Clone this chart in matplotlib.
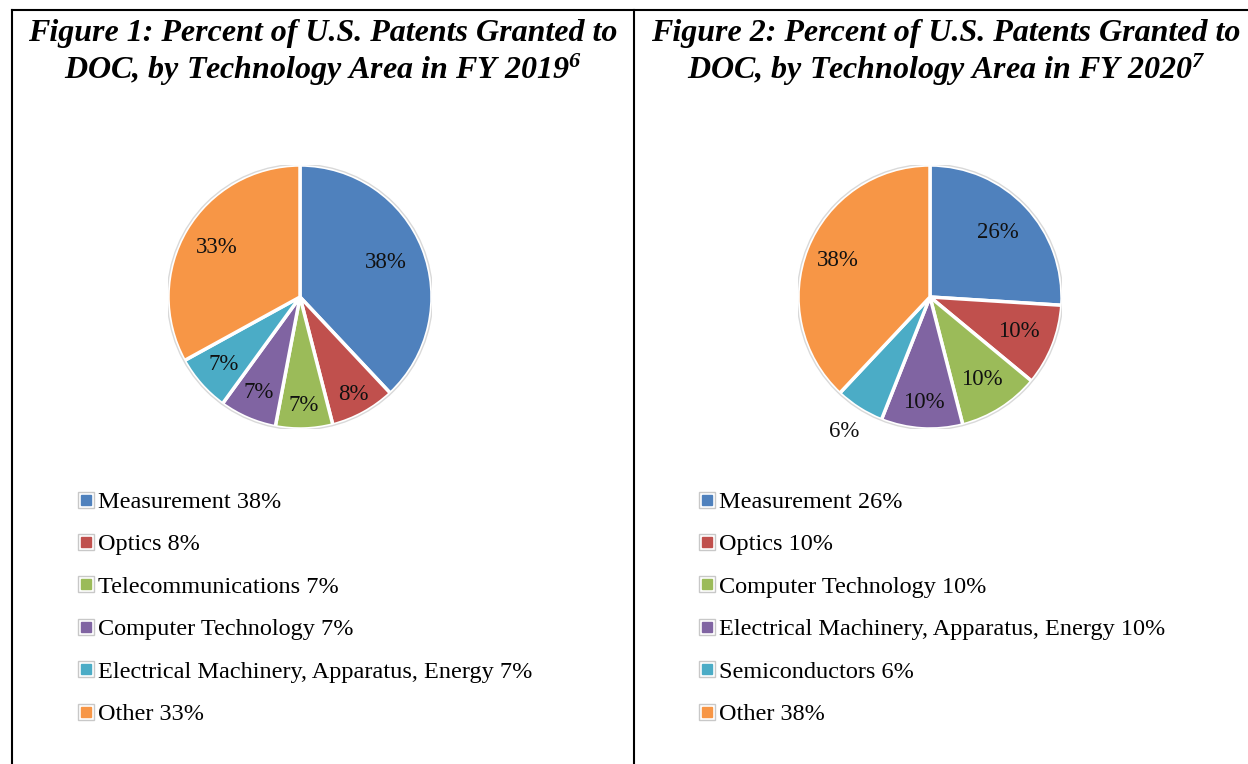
import numpy as np
import matplotlib
matplotlib.use("Agg")
import matplotlib.pyplot as plt
from matplotlib.lines import Line2D
from matplotlib.legend_handler import HandlerTuple

plt.rcParams['font.family'] = ['Liberation Serif', 'DejaVu Serif']
plt.rcParams['mathtext.fontset'] = 'custom'
plt.rcParams['mathtext.rm'] = 'Liberation Serif:bold:italic'
plt.rcParams['mathtext.it'] = 'Liberation Serif:bold:italic'
plt.rcParams['mathtext.bf'] = 'Liberation Serif:bold:italic'

# data
cats_2019 = ["Measurement", "Optics", "Telecommunications", "Computer Technology",
             "Electrical Machinery, Apparatus, Energy", "Other"]
vals_2019 = [38, 8, 7, 7, 7, 33]
cats_2020 = ["Measurement", "Optics", "Computer Technology",
             "Electrical Machinery, Apparatus, Energy", "Semiconductors", "Other"]
vals_2020 = [26, 10, 10, 10, 6, 38]
colors = ["#4F81BD", "#C0504D", "#9BBB59", "#8064A2", "#4BACC6", "#F79646"]

# label distance from centre for each slice (fraction of radius)
lab_r_2019 = [0.70, 0.84, 0.82, 0.79, 0.77, 0.73]
lab_r_2020 = [0.71, 0.72, 0.74, 0.80, 1.21, 0.75]

W, H = 1248, 764
fig = plt.figure(figsize=(W / 100, H / 100), dpi=100)
fig.patch.set_facecolor("white")

# table-like border lines
fig.add_artist(Line2D([12 / W, 1], [1 - 10 / H, 1 - 10 / H], color="black", lw=1.5))
fig.add_artist(Line2D([12 / W, 12 / W], [0, 1 - 10 / H], color="black", lw=1.5))
fig.add_artist(Line2D([634 / W, 634 / W], [0, 1 - 10 / H], color="black", lw=1.5))


def draw_panel(cx, tcx, title1, title2, cats, vals, lab_r, leg_x):
    r = 132
    ax = fig.add_axes([(cx - r) / W, 1 - (297 + r) / H, 2 * r / W, 2 * r / H])
    wedges, _ = ax.pie(vals, colors=colors, startangle=90, counterclock=False,
                       radius=1.0, wedgeprops=dict(edgecolor="white", linewidth=2.5))
    ax.add_patch(plt.Circle((0, 0), 1.005, fill=False, edgecolor="#d9d9d9", lw=1))
    for w, v, rr in zip(wedges, vals, lab_r):
        ang = np.deg2rad((w.theta1 + w.theta2) / 2)
        ax.text(rr * np.cos(ang), rr * np.sin(ang), f"{v}%", ha="center", va="center",
                fontsize=16.5, color="#111111")
    ax.set_xlim(-1, 1)
    ax.set_ylim(-1, 1)
    ax.set_aspect("equal")
    ax.axis("off")

    fig.text(tcx / W, 1 - 34 / H, title1, ha="center", va="center", fontsize=23,
             fontweight="bold", fontstyle="italic")
    fig.text(tcx / W, 1 - 70 / H, title2, ha="center", va="center", fontsize=23,
             fontweight="bold", fontstyle="italic")

    handles = [(Line2D([], [], marker="s", ls="", ms=11, mfc="white", mec="#c8c8c8", mew=1),
                Line2D([], [], marker="s", ls="", ms=7, mfc=c, mec=c))
               for c in colors]
    labels = [f"{c} {v}%" for c, v in zip(cats, vals)]
    fig.legend(handles, labels, loc="upper left", bbox_to_anchor=(leg_x / W, 1 - 491 / H),
               frameon=False, fontsize=17.5, labelspacing=0.84, handlelength=0.75,
               handletextpad=0.1, borderaxespad=0, borderpad=0,
               handler_map={tuple: HandlerTuple(ndivide=1, pad=0)})


draw_panel(300, 323, "Figure 1: Percent of U.S. Patents Granted to",
           r"DOC, by Technology Area in FY 2019$^{6}$",
           cats_2019, vals_2019, lab_r_2019, 77)
draw_panel(930, 946, "Figure 2: Percent of U.S. Patents Granted to",
           r"DOC, by Technology Area in FY 2020$^{7}$",
           cats_2020, vals_2020, lab_r_2020, 698)

fig.savefig("out.png", dpi=100, facecolor="white")
